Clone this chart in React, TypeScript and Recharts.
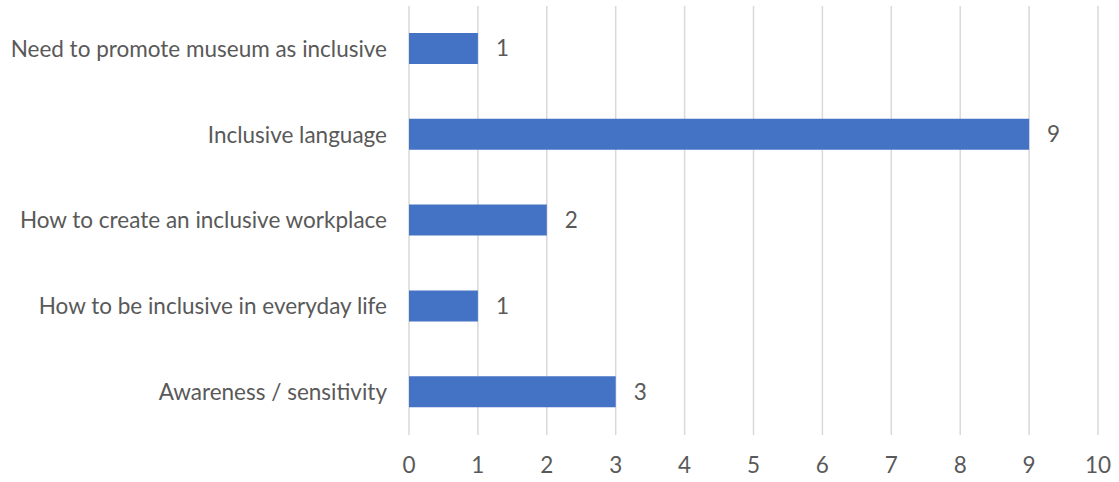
import { BarChart, Bar, XAxis, YAxis, CartesianGrid, LabelList } from 'recharts'

const categories = [
  'Need to promote museum as inclusive',
  'Inclusive language',
  'How to create an inclusive workplace',
  'How to be inclusive in everyday life',
  'Awareness / sensitivity',
]
const counts = [1, 9, 2, 1, 3]
const xTicks = [0, 1, 2, 3, 4, 5, 6, 7, 8, 9, 10]

const data = categories.map((name, i) => ({ name, value: counts[i] }))

const font = { fill: '#595959', fontSize: 22.5, fontFamily: 'Lato, sans-serif' }

export default function App() {
  return (
    <div style={{ position: 'fixed', left: 0, top: 0, background: '#fff' }}>
      <BarChart
        width={1119}
        height={482}
        data={data}
        layout="vertical"
        margin={{ top: 6, right: 21, bottom: 17, left: 0 }}
      >
        <CartesianGrid horizontal={false} stroke="#d9d9d9" strokeWidth={1.5} />
        <XAxis
          type="number"
          domain={[0, 10]}
          ticks={xTicks}
          interval={0}
          height={30}
          axisLine={false}
          tickLine={false}
          tickMargin={16}
          tick={font}
        />
        <YAxis
          type="category"
          dataKey="name"
          width={409}
          axisLine={false}
          tickLine={false}
          tickSize={0}
          tickMargin={22}
          tick={font}
        />
        <Bar dataKey="value" fill="#4472c4" barSize={31} isAnimationActive={false}>
          <LabelList dataKey="value" position="right" offset={18} style={font} />
        </Bar>
      </BarChart>
    </div>
  )
}
